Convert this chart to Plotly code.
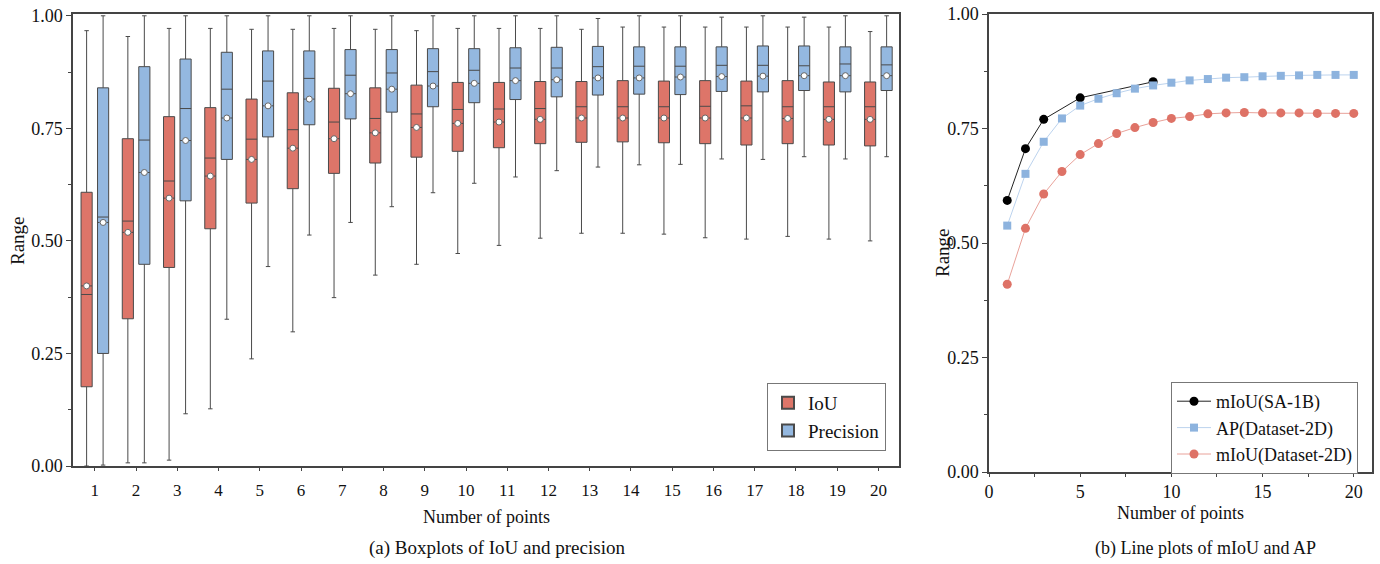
import numpy as np
import plotly.graph_objects as go

# ---------------- data: left panel (boxplots) ----------------
points = list(range(1, 21))

iou_upper = [0.967, 0.954, 0.972, 0.972, 0.970, 0.970, 0.972, 0.970, 0.967, 0.972,
             0.972, 0.972, 0.970, 0.975, 0.975, 0.975, 0.975, 0.975, 0.975, 0.965]
iou_q3 = [0.608, 0.727, 0.776, 0.796, 0.815, 0.829, 0.839, 0.840, 0.846, 0.852,
          0.852, 0.854, 0.854, 0.856, 0.855, 0.856, 0.855, 0.856, 0.853, 0.853]
iou_median = [0.381, 0.544, 0.633, 0.684, 0.726, 0.747, 0.764, 0.772, 0.782, 0.792,
              0.793, 0.794, 0.798, 0.798, 0.798, 0.799, 0.800, 0.798, 0.798, 0.798]
iou_q1 = [0.176, 0.327, 0.441, 0.527, 0.584, 0.616, 0.650, 0.673, 0.686, 0.699,
          0.707, 0.716, 0.719, 0.720, 0.718, 0.716, 0.713, 0.716, 0.713, 0.711]
iou_lower = [0.000, 0.007, 0.013, 0.127, 0.238, 0.298, 0.374, 0.424, 0.448, 0.472,
             0.490, 0.506, 0.517, 0.517, 0.515, 0.507, 0.504, 0.510, 0.504, 0.500]
iou_mean = [0.400, 0.519, 0.595, 0.644, 0.681, 0.706, 0.727, 0.740, 0.752, 0.761,
            0.764, 0.770, 0.773, 0.773, 0.773, 0.773, 0.773, 0.772, 0.770, 0.770]

prec_upper = [1.000, 1.000, 1.000, 1.000, 1.000, 1.000, 1.000, 1.000, 1.000, 1.000,
              1.000, 1.000, 0.994, 1.000, 1.000, 0.997, 1.000, 0.997, 1.000, 1.000]
prec_q3 = [0.840, 0.887, 0.904, 0.919, 0.922, 0.922, 0.925, 0.925, 0.927, 0.927,
           0.929, 0.930, 0.932, 0.931, 0.931, 0.931, 0.933, 0.933, 0.931, 0.931]
prec_median = [0.553, 0.724, 0.794, 0.837, 0.855, 0.861, 0.868, 0.873, 0.876, 0.879,
               0.884, 0.884, 0.887, 0.888, 0.888, 0.890, 0.890, 0.889, 0.893, 0.891]
prec_q1 = [0.250, 0.448, 0.589, 0.681, 0.731, 0.758, 0.771, 0.786, 0.798, 0.807,
           0.814, 0.820, 0.824, 0.826, 0.825, 0.832, 0.831, 0.834, 0.831, 0.834]
prec_lower = [0.002, 0.007, 0.116, 0.326, 0.443, 0.513, 0.541, 0.576, 0.607, 0.628,
              0.642, 0.656, 0.664, 0.669, 0.670, 0.682, 0.681, 0.687, 0.682, 0.687]
prec_mean = [0.541, 0.652, 0.723, 0.773, 0.800, 0.815, 0.827, 0.837, 0.844, 0.850,
             0.856, 0.858, 0.862, 0.862, 0.864, 0.865, 0.866, 0.867, 0.867, 0.867]

# ---------------- data: right panel (lines) ----------------
sa1b_x = [1, 2, 3, 5, 9]
sa1b_miou = [0.593, 0.706, 0.770, 0.817, 0.852]

ds_x = list(range(1, 21))
ds_ap = [0.538, 0.651, 0.721, 0.772, 0.800, 0.815, 0.827, 0.837, 0.844, 0.850,
         0.855, 0.858, 0.861, 0.862, 0.864, 0.865, 0.866, 0.867, 0.867, 0.867]
ds_miou = [0.410, 0.532, 0.607, 0.656, 0.693, 0.717, 0.739, 0.752, 0.763, 0.772,
           0.776, 0.782, 0.784, 0.785, 0.784, 0.784, 0.784, 0.783, 0.783, 0.783]

y_ticks = [0.00, 0.25, 0.50, 0.75, 1.00]

# ---------------- styling ----------------
FONT = "Liberation Serif"
RED_FILL = "#DD7569"
BLUE_FILL = "#94B8E0"
BOX_LINE = "#4a4a4a"
OFFSET = 0.2
BOX_W = 0.27

W, H = 1380, 564
def px(x):
    return x / W
def py(y):
    return 1 - y / H

fig = go.Figure()

xs = np.array(points, dtype=float)

fig.add_trace(go.Box(
    x=xs - OFFSET, q1=iou_q1, median=iou_median, q3=iou_q3,
    lowerfence=iou_lower, upperfence=iou_upper, mean=iou_mean,
    boxpoints=False, width=BOX_W, whiskerwidth=0.4,
    fillcolor=RED_FILL, line=dict(color=BOX_LINE, width=1),
    name="IoU", legend="legend", xaxis="x", yaxis="y"))
fig.add_trace(go.Box(
    x=xs + OFFSET, q1=prec_q1, median=prec_median, q3=prec_q3,
    lowerfence=prec_lower, upperfence=prec_upper, mean=prec_mean,
    boxpoints=False, width=BOX_W, whiskerwidth=0.4,
    fillcolor=BLUE_FILL, line=dict(color=BOX_LINE, width=1),
    name="Precision", legend="legend", xaxis="x", yaxis="y"))

# mean markers
fig.add_trace(go.Scatter(
    x=xs - OFFSET, y=iou_mean, mode="markers", showlegend=False,
    marker=dict(symbol="circle", size=6, color="white", line=dict(color="#666", width=1)),
    xaxis="x", yaxis="y", hoverinfo="skip"))
fig.add_trace(go.Scatter(
    x=xs + OFFSET, y=prec_mean, mode="markers", showlegend=False,
    marker=dict(symbol="circle", size=6, color="white", line=dict(color="#666", width=1)),
    xaxis="x", yaxis="y", hoverinfo="skip"))

# right panel lines
fig.add_trace(go.Scatter(
    x=sa1b_x, y=sa1b_miou, mode="lines+markers", name="mIoU(SA-1B)",
    line=dict(color="#222222", width=1),
    marker=dict(symbol="circle", size=9, color="#000000"),
    legend="legend2", xaxis="x2", yaxis="y2"))
fig.add_trace(go.Scatter(
    x=ds_x, y=ds_ap, mode="lines+markers", name="AP(Dataset-2D)",
    line=dict(color="#BCD3EE", width=1),
    marker=dict(symbol="square", size=8, color="#8DB3DE"),
    legend="legend2", xaxis="x2", yaxis="y2"))
fig.add_trace(go.Scatter(
    x=ds_x, y=ds_miou, mode="lines+markers", name="mIoU(Dataset-2D)",
    line=dict(color="#E9A29A", width=1),
    marker=dict(symbol="circle", size=9, color="#DE7266"),
    legend="legend2", xaxis="x2", yaxis="y2"))

axis_common = dict(showline=True, linecolor="#444", linewidth=1.5, mirror=True,
                   showgrid=False, zeroline=False, ticks="outside",
                   tickcolor="#444", automargin=False)

fig.update_layout(
    width=W, height=H,
    margin=dict(l=0, r=0, t=0, b=0),
    paper_bgcolor="white", plot_bgcolor="white",
    font=dict(family=FONT, color="#111", size=18),
    boxmode="overlay",
    showlegend=True,
    xaxis=dict(domain=[px(73), px(899)], range=[0.47, 20.5],
               tickmode="array", tickvals=points, ticktext=[str(p) for p in points],
               tickfont=dict(size=17), anchor="y", ticklen=3, ticklabelstandoff=5,
               **axis_common),
    yaxis=dict(domain=[py(466), py(14)], range=[0, 1.004],
               tickmode="array", tickvals=y_ticks,
               ticktext=[f"{v:.2f}" for v in y_ticks],
               tickfont=dict(size=18), anchor="x", ticklen=5,
               minor=dict(dtick=0.125, tick0=0, ticks="outside", ticklen=3, tickcolor="#444"),
               **axis_common),
    xaxis2=dict(domain=[px(989), px(1372)], range=[0, 21],
                tickmode="array", tickvals=[0, 5, 10, 15, 20],
                tickfont=dict(size=18), anchor="y2", ticklen=3,
                minor=dict(dtick=2.5, tick0=0, ticks="outside", ticklen=3, tickcolor="#444"),
                **axis_common),
    yaxis2=dict(domain=[py(472), py(14)], range=[0, 1.0],
                tickmode="array", tickvals=y_ticks,
                ticktext=[f"{v:.2f}" for v in y_ticks],
                tickfont=dict(size=18), anchor="x2", ticklen=5,
                minor=dict(dtick=0.125, tick0=0, ticks="outside", ticklen=3, tickcolor="#444"),
                **axis_common),
    legend=dict(x=px(886), xanchor="right", y=py(383), yanchor="top",
                bordercolor="#777", borderwidth=1, bgcolor="white",
                font=dict(size=19, family=FONT), tracegroupgap=0,
                itemsizing="constant"),
    legend2=dict(x=px(1358), xanchor="right", y=py(382), yanchor="top",
                 bordercolor="#777", borderwidth=1, bgcolor="white",
                 font=dict(size=18, family=FONT), tracegroupgap=0,
                 itemwidth=34),
)

annots = [
    dict(text="Range", x=px(18), y=py(241), textangle=-90, font=dict(size=19)),
    dict(text="Number of points", x=px(486), y=py(517), font=dict(size=18)),
    dict(text="(a) Boxplots of IoU and precision", x=px(497), y=py(548), font=dict(size=19)),
    dict(text="Range", x=px(942), y=py(252), textangle=-90, font=dict(size=19)),
    dict(text="Number of points", x=px(1180), y=py(513), font=dict(size=18)),
    dict(text="(b) Line plots of mIoU and AP", x=px(1205), y=py(548), font=dict(size=18)),
]
for a in annots:
    fig.add_annotation(xref="paper", yref="paper", showarrow=False,
                       xanchor="center", yanchor="middle", **a)

fig.write_html("out.html",
               config={"displayModeBar": False},
               post_script="document.body.style.margin='0';document.body.style.overflow='hidden';")
